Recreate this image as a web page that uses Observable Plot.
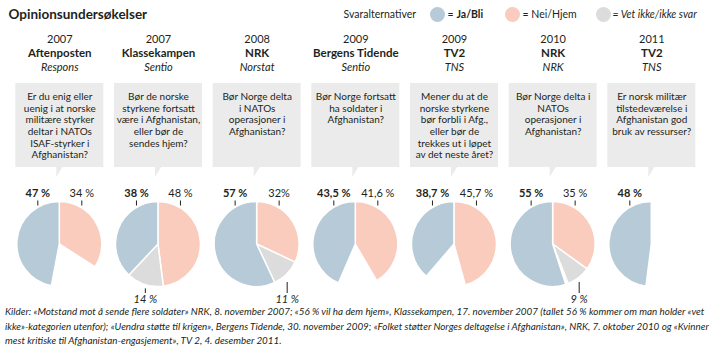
<!DOCTYPE html>
<html><head><meta charset="utf-8">
<script src="https://cdn.jsdelivr.net/npm/d3@7"></script>
<script src="https://cdn.jsdelivr.net/npm/@observablehq/plot@0.6"></script>
<style>
body{margin:0;width:719px;height:357px;overflow:hidden;background:#fff;font-family:Lato,sans-serif;color:#231f20;position:relative}
#chart{position:absolute;left:0;top:0}
#caption{position:absolute;left:5px;top:304px;font-style:italic;font-size:9.85px;line-height:14.5px;white-space:nowrap}
</style></head><body>
<div id="chart"></div>
<div id="caption"></div>
<script>
const years = ["2007","2007","2008","2009","2009","2010","2011"];
const outlets = ["Aftenposten","Klassekampen","NRK","Bergens Tidende","TV2","NRK","TV2"];
const pollsters = ["Respons","Sentio","Norstat","Sentio","TNS","NRK","TNS"];
const questions = [
  "Er du enig eller\nuenig i at norske\nmilitære styrker\ndeltar i NATOs\nISAF-styrker i\nAfghanistan?",
  "Bør de norske\nstyrkene fortsatt\nvære i Afghanistan,\neller bør de\nsendes hjem?",
  "Bør Norge delta\ni NATOs\noperasjoner i\nAfghanistan?",
  "Bør Norge fortsatt\nha soldater i\nAfghanistan?",
  "Mener du at de\nnorske styrkene\nbør forbli i Afg.,\neller bør de\ntrekkes ut i løpet\nav det neste året?",
  "Bør Norge delta i\nNATOs\noperasjoner i\nAfghanistan?",
  "Er norsk militær\ntilstedeværelse i\nAfghanistan god\nbruk av ressurser?"
];
const ja  = [47, 38, 57, 43.5, 38.7, 55, 48];
const nei = [34, 48, 32, 41.6, 45.7, 35, null];
const vet = [null, 14, 11, null, null, 9, null];
const jaLabels  = ["47 %","38 %","57 %","43,5 %","38,7 %","55 %","48 %"];
const neiLabels = ["34 %","48 %","32%","41,6 %","45,7 %","35 %",null];
const vetLabels = [null,"14 %","11 %",null,null,"9 %",null];
const categories = ["Ja/Bli","Nei/Hjem","Vet ikke/ikke svar"];
const legendTitle = "Svaralternativer";
const title = "Opinionsundersøkelser";
const captionLines = [
  "Kilder: «Motstand mot å sende flere soldater» NRK, 8. november 2007; «56 % vil ha dem hjem», Klassekampen, 17. november 2007 (tallet 56 % kommer om man holder «vet",
  "ikke»-kategorien utenfor); «Uendra støtte til krigen», Bergens Tidende, 30. november 2009; «Folket støtter Norges deltagelse i Afghanistan», NRK, 7. oktober 2010 og «Kvinner",
  "mest kritiske til Afghanistan-engasjement», TV 2, 4. desember 2011."
];

// ---- layout constants ----
const W = 719, H = 312;
const X0 = 59.3, X1 = 651.3, STEP = (X1 - X0) / 6;
const R = 42.5, PIE_Y = 244;
const INK = "#231f20";
const colors = ["#b6cbd7", "#f9ccbe", "#dcdcdc"];
const cols = d3.range(years.length);

// slices (fractions of a turn, 0 = 12 o'clock, clockwise)
const slices = [];
cols.forEach(i => {
  if (nei[i] != null) slices.push({i, cat: categories[1], a0: 0, a1: nei[i] / 100});
  if (vet[i] != null) { const s = (nei[i] || 0) / 100; slices.push({i, cat: categories[2], a0: s, a1: s + vet[i] / 100}); }
  if (ja[i] != null) slices.push({i, cat: categories[0], a0: 1 - ja[i] / 100, a1: 1});
});

const topJa = cols.filter(i => jaLabels[i] != null);
const topNei = cols.filter(i => neiLabels[i] != null);
const bottom = cols.filter(i => vetLabels[i] != null).map(i => {
  const s = nei[i] / 100, mid = (s + vet[i] / 200) * 2 * Math.PI;
  const ex = Math.sin(mid) * R, ey = -Math.cos(mid) * R;
  return {i, label: vetLabels[i], xo: ex, top: Math.max(PIE_Y + ey + 4, PIE_Y + 38)};
});

const pies = (index, scales) => {
  const g = d3.create("svg:g");
  const arc = d3.arc().innerRadius(0).outerRadius(R);
  for (const s of slices) {
    g.append("path")
      .attr("transform", `translate(${scales.x(s.i)},${scales.y(PIE_Y)})`)
      .attr("d", arc({startAngle: s.a0 * 2 * Math.PI, endAngle: s.a1 * 2 * Math.PI}))
      .attr("fill", scales.color(s.cat))
      .attr("stroke", "#fff").attr("stroke-width", 1.5).attr("stroke-linejoin", "round");
  }
  return g.node();
};
const tails = (index, scales) => {
  const g = d3.create("svg:g");
  for (const i of cols) {
    const cx = scales.x(i), y = scales.y(167);
    g.append("path").attr("d", `M${cx - 3},${y - 0.5}L${cx + 3.5},${y - 0.5}L${cx - 3},${y + 10}Z`).attr("fill", "#ebebeb");
  }
  return g.node();
};

const legendDot = (k, x) => Plot.dot([categories[k]], {frameAnchor: "top-left", dx: x, dy: 14, r: 7.5, fill: d => d});
const label = (txt, x, opts = {}) => Plot.text([txt], {frameAnchor: "top-left", dx: x, dy: 14, text: d => d, textAnchor: "start", lineAnchor: "middle", fontSize: 10.5, fill: INK, ...opts});

const chart = Plot.plot({
  width: W, height: H,
  margin: 0,
  style: {fontFamily: "Lato, sans-serif", color: INK, background: "transparent"},
  x: {type: "linear", domain: [0, 6], range: [X0, X1], axis: null},
  y: {type: "linear", domain: [0, H], range: [0, H], axis: null},
  color: {type: "ordinal", domain: categories, range: colors},
  marks: [
    // title + legend
    label(title, 8, {fontSize: 13.5, fontWeight: "bold"}),
    label(legendTitle, 343),
    legendDot(0, 437), label("=", 447), label(categories[0], 456, {fontWeight: "bold"}),
    legendDot(1, 512), label("= " + categories[1], 522),
    legendDot(2, 603), label("= " + categories[2], 612, {fontStyle: "italic"}),
    // headers
    Plot.text(cols, {x: i => i, y: 38.5, text: i => years[i], fontSize: 11, fill: INK}),
    Plot.text(cols, {x: i => i, y: 53, text: i => outlets[i], fontSize: 11.5, fontWeight: "bold", fill: INK}),
    Plot.text(cols, {x: i => i, y: 67, text: i => pollsters[i], fontSize: 11, fontStyle: "italic", fill: INK}),
    // question boxes
    Plot.rect(cols, {x1: i => i - 0.446, x2: i => i + 0.446, y1: 83, y2: 167, fill: "#ebebeb"}),
    tails,
    Plot.text(cols, {x: i => i, y: 91, text: i => questions[i], lineAnchor: "top", lineHeight: 1.17, fontSize: 10, fill: INK}),
    // percentage labels
    Plot.text(topJa, {x: i => i, dx: -22, y: 193, text: i => jaLabels[i], fontSize: 11, fontWeight: "bold", fill: INK}),
    Plot.text(topNei, {x: i => i, dx: 22, y: 193, text: i => neiLabels[i], fontSize: 11, fill: INK}),
    Plot.ruleX(topJa, {x: i => i, dx: -22, y1: 200.5, y2: 205.5, stroke: INK, strokeWidth: 1}),
    Plot.ruleX(topNei, {x: i => i, dx: 22, y1: 200.5, y2: 205.5, stroke: INK, strokeWidth: 1}),
    pies,
    Plot.ruleX(bottom, {x: d => d.i + d.xo / STEP, y1: d => d.top, y2: 293, stroke: INK, strokeWidth: 1}),
    Plot.text(bottom, {x: d => d.i + d.xo / STEP, y: 298.5, text: "label", fontSize: 11, fontStyle: "italic", fill: INK})
  ]
});
document.getElementById("chart").append(chart);
document.getElementById("caption").innerHTML = captionLines.map(l => `<div>${l}</div>`).join("");
</script>
</body></html>
